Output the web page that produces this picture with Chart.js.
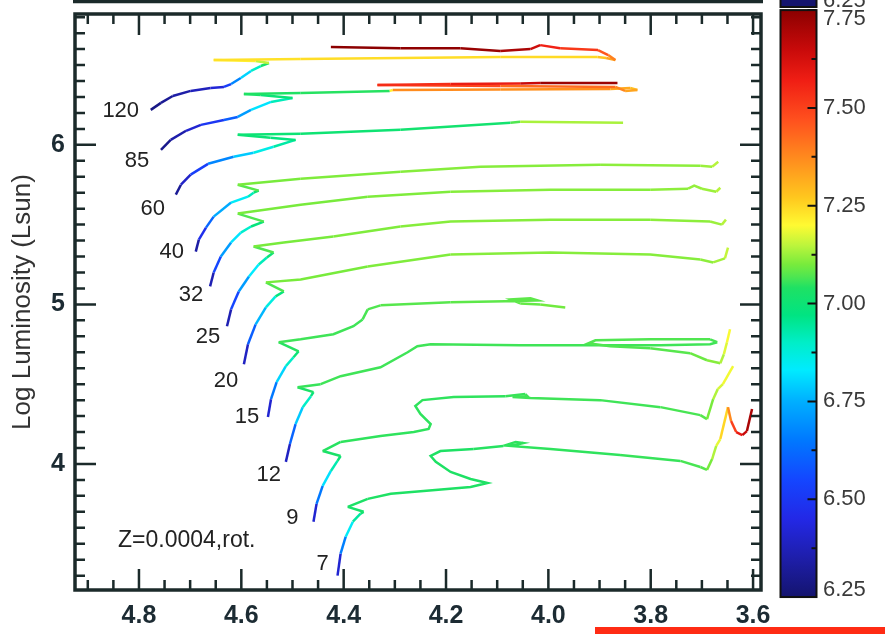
<!DOCTYPE html>
<html>
<head>
<meta charset="utf-8">
<script src="https://cdn.jsdelivr.net/npm/chart.js@4.4.1/dist/chart.umd.min.js"></script>
<style>
  html, body { margin: 0; padding: 0; background: #fff; }
  canvas { display: block; }
</style>
</head>
<body>
<canvas id="hrd" width="885" height="634" style="width:885px;height:634px"></canvas>
<script>
// Rotating tracks at Z = 0.0004: log Teff, log L/Lsun and log age along each track
const masses = [120, 85, 60, 40, 32, 25, 20, 15, 12, 9, 7];

const logT120 = [4.777, 4.757, 4.734, 4.699, 4.660, 4.634, 4.620, 4.601, 4.581, 4.562, 4.546, 4.572, 4.654, 4.484, 4.289, 4.094, 3.904, 3.887, 3.869, 3.883, 3.903, 3.977, 4.016, 4.035, 4.094, 4.172, 4.289, 4.425];
const logL120 = [6.219, 6.263, 6.306, 6.338, 6.356, 6.363, 6.381, 6.419, 6.463, 6.494, 6.513, 6.525, 6.531, 6.538, 6.544, 6.550, 6.550, 6.544, 6.531, 6.563, 6.594, 6.606, 6.625, 6.600, 6.588, 6.606, 6.606, 6.613];
const logAge120 = [6.28, 6.30, 6.33, 6.36, 6.40, 6.45, 6.60, 6.75, 6.85, 6.95, 7.10, 7.20, 7.23, 7.24, 7.24, 7.24, 7.25, 7.30, 7.36, 7.42, 7.50, 7.53, 7.60, 7.68, 7.72, 7.74, 7.75, 7.75];

const logT85 = [4.757, 4.738, 4.708, 4.679, 4.634, 4.607, 4.581, 4.542, 4.500, 4.562, 4.595, 4.484, 4.310, 4.304, 4.094, 3.879, 3.840, 3.826, 3.850, 3.869, 4.094, 4.334, 4.191, 4.055, 4.016, 3.865];
const logL85 = [5.969, 6.031, 6.088, 6.125, 6.156, 6.175, 6.219, 6.269, 6.294, 6.313, 6.319, 6.325, 6.338, 6.344, 6.347, 6.350, 6.356, 6.344, 6.338, 6.363, 6.369, 6.375, 6.381, 6.384, 6.388, 6.388];
const logAge85 = [6.28, 6.32, 6.38, 6.45, 6.55, 6.65, 6.78, 6.86, 6.97, 7.02, 7.04, 7.04, 7.05, 7.37, 7.37, 7.36, 7.28, 7.30, 7.36, 7.40, 7.45, 7.52, 7.56, 7.60, 7.70, 7.75];

const logT60 = [4.728, 4.718, 4.699, 4.665, 4.615, 4.576, 4.537, 4.494, 4.543, 4.607, 4.484, 4.289, 4.074, 4.055, 3.854];
const logL60 = [5.688, 5.750, 5.813, 5.881, 5.925, 5.950, 5.988, 6.031, 6.044, 6.063, 6.069, 6.094, 6.138, 6.144, 6.138];
const logAge60 = [6.28, 6.35, 6.45, 6.60, 6.75, 6.82, 6.90, 6.97, 6.99, 7.00, 7.00, 7.01, 7.02, 7.12, 7.15];

const logT40 = [4.689, 4.683, 4.669, 4.654, 4.620, 4.587, 4.576, 4.566, 4.607, 4.484, 4.289, 4.133, 3.899, 3.703, 3.680, 3.668];
const logL40 = [5.331, 5.406, 5.481, 5.550, 5.638, 5.675, 5.700, 5.713, 5.750, 5.788, 5.831, 5.863, 5.875, 5.869, 5.863, 5.894];
const logAge40 = [6.28, 6.40, 6.55, 6.68, 6.80, 6.88, 6.95, 7.05, 7.10, 7.10, 7.11, 7.11, 7.11, 7.12, 7.13, 7.16];

const logT32 = [4.661, 4.654, 4.640, 4.620, 4.601, 4.581, 4.556, 4.607, 4.484, 4.353, 4.191, 3.996, 3.801, 3.727, 3.715, 3.700, 3.672, 3.664];
const logL32 = [5.113, 5.200, 5.300, 5.388, 5.450, 5.488, 5.519, 5.569, 5.625, 5.675, 5.706, 5.719, 5.719, 5.725, 5.744, 5.725, 5.706, 5.731];
const logAge32 = [6.28, 6.45, 6.65, 6.78, 6.86, 6.93, 7.04, 7.10, 7.10, 7.10, 7.11, 7.11, 7.11, 7.12, 7.12, 7.12, 7.13, 7.16];

const logT25 = [4.628, 4.620, 4.605, 4.585, 4.566, 4.550, 4.537, 4.576, 4.517, 4.420, 4.289, 4.191, 3.996, 3.801, 3.684, 3.661, 3.653];
const logL25 = [4.863, 4.969, 5.081, 5.175, 5.250, 5.294, 5.325, 5.363, 5.388, 5.425, 5.488, 5.519, 5.531, 5.531, 5.519, 5.500, 5.531];
const logAge25 = [6.28, 6.45, 6.65, 6.78, 6.88, 6.95, 7.04, 7.10, 7.10, 7.10, 7.11, 7.11, 7.11, 7.11, 7.12, 7.13, 7.16];

const logT20 = [4.595, 4.587, 4.572, 4.552, 4.533, 4.517, 4.552, 4.484, 4.353, 4.191, 3.996, 3.801, 3.703, 3.678, 3.655, 3.649];
const logL20 = [4.625, 4.750, 4.875, 4.981, 5.050, 5.081, 5.138, 5.156, 5.238, 5.313, 5.325, 5.313, 5.281, 5.263, 5.288, 5.356];
const logAge20 = [6.28, 6.50, 6.70, 6.82, 6.92, 7.04, 7.10, 7.10, 7.10, 7.11, 7.11, 7.11, 7.11, 7.12, 7.14, 7.17];

const logT15 = [4.548, 4.542, 4.531, 4.513, 4.498, 4.488, 4.527, 4.484, 4.420, 4.381, 4.363, 4.353, 4.328, 4.191, 4.084, 4.021, 4.035, 4.074, 4.055, 4.016, 3.967];
const logL15 = [4.294, 4.406, 4.513, 4.613, 4.669, 4.706, 4.763, 4.781, 4.813, 4.863, 4.906, 4.969, 4.994, 5.013, 5.019, 5.025, 5.038, 5.031, 5.006, 5.000, 4.981];
const logAge15 = [6.28, 6.55, 6.75, 6.85, 6.95, 7.03, 7.06, 7.06, 7.06, 7.06, 7.06, 7.07, 7.07, 7.08, 7.08, 7.08, 7.08, 7.08, 7.08, 7.09, 7.10];

const logT12 = [4.513, 4.505, 4.494, 4.480, 4.464, 4.459, 4.490, 4.445, 4.406, 4.328, 4.275, 4.256, 4.230, 4.055, 3.899, 3.781, 3.684, 3.670, 3.684, 3.801, 3.908, 3.922, 3.879, 3.801, 3.723, 3.690, 3.664, 3.657, 3.651, 3.645];
const logL12 = [4.013, 4.125, 4.250, 4.356, 4.425, 4.450, 4.481, 4.500, 4.550, 4.606, 4.700, 4.738, 4.750, 4.744, 4.744, 4.744, 4.750, 4.763, 4.781, 4.781, 4.775, 4.756, 4.738, 4.725, 4.694, 4.650, 4.631, 4.688, 4.763, 4.844];
const logAge12 = [6.28, 6.50, 6.72, 6.85, 6.95, 7.02, 7.05, 7.06, 7.06, 7.06, 7.06, 7.06, 7.06, 7.06, 7.06, 7.06, 7.06, 7.06, 7.07, 7.07, 7.07, 7.07, 7.07, 7.07, 7.08, 7.10, 7.12, 7.16, 7.19, 7.20];

const logT9 = [4.459, 4.453, 4.441, 4.425, 4.412, 4.406, 4.441, 4.406, 4.328, 4.263, 4.234, 4.230, 4.250, 4.260, 4.246, 4.185, 4.084, 4.045, 4.041, 4.070, 4.035, 3.899, 3.781, 3.703, 3.690, 3.678, 3.669, 3.659, 3.639];
const logL9 = [3.638, 3.750, 3.863, 3.956, 4.019, 4.050, 4.081, 4.138, 4.175, 4.200, 4.219, 4.250, 4.313, 4.363, 4.400, 4.419, 4.425, 4.438, 4.425, 4.419, 4.413, 4.400, 4.356, 4.306, 4.281, 4.406, 4.469, 4.500, 4.613];
const logAge9 = [6.28, 6.55, 6.75, 6.88, 6.97, 7.02, 7.04, 7.05, 7.05, 7.05, 7.05, 7.05, 7.05, 7.05, 7.05, 7.05, 7.05, 7.06, 7.06, 7.06, 7.06, 7.06, 7.06, 7.07, 7.08, 7.12, 7.16, 7.18, 7.20];

const logT7 = [4.412, 4.406, 4.396, 4.382, 4.367, 4.361, 4.392, 4.353, 4.308, 4.244, 4.152, 4.119, 4.152, 4.191, 4.220, 4.230, 4.211, 4.146, 4.088, 4.064, 4.049, 4.074, 3.996, 3.860, 3.742, 3.703, 3.690, 3.680, 3.672, 3.664, 3.649, 3.643, 3.633, 3.621, 3.612, 3.602];
const logL7 = [3.300, 3.438, 3.544, 3.638, 3.688, 3.700, 3.731, 3.781, 3.813, 3.831, 3.856, 3.881, 3.906, 3.950, 4.013, 4.050, 4.081, 4.094, 4.113, 4.138, 4.131, 4.113, 4.094, 4.056, 4.019, 3.981, 3.963, 4.031, 4.113, 4.156, 4.356, 4.269, 4.200, 4.181, 4.206, 4.344];
const logAge7 = [6.28, 6.55, 6.78, 6.90, 6.98, 7.02, 7.03, 7.04, 7.04, 7.04, 7.04, 7.04, 7.04, 7.04, 7.04, 7.04, 7.04, 7.04, 7.05, 7.05, 7.05, 7.05, 7.05, 7.05, 7.06, 7.07, 7.08, 7.12, 7.16, 7.20, 7.30, 7.45, 7.55, 7.62, 7.68, 7.72];

const xTickValues = [3.6, 3.8, 4.0, 4.2, 4.4, 4.6, 4.8];
const yTickValues = [4, 5, 6];
const ageTickValues = [6.25, 6.50, 6.75, 7.00, 7.25, 7.50, 7.75];
const ageTickLabels = ['6.25', '6.50', '6.75', '7.00', '7.25', '7.50', '7.75'];
const panelNote = 'Z=0.0004,rot.';

const logTs = [logT120, logT85, logT60, logT40, logT32, logT25, logT20, logT15, logT12, logT9, logT7];
const logLs = [logL120, logL85, logL60, logL40, logL32, logL25, logL20, logL15, logL12, logL9, logL7];
const logAges = [logAge120, logAge85, logAge60, logAge40, logAge32, logAge25, logAge20, logAge15, logAge12, logAge9, logAge7];

// colour table of the age bar (IDL-like rainbow with a green step near 7.05)
const cmap = [
  [6.25, 20, 20, 110], [6.35, 30, 30, 170], [6.45, 35, 40, 230], [6.55, 20, 70, 255],
  [6.65, 0, 120, 255], [6.75, 0, 175, 255], [6.83, 0, 235, 255], [6.90, 0, 238, 200],
  [6.97, 0, 228, 130], [7.04, 30, 225, 100], [7.07, 80, 230, 80], [7.10, 120, 235, 60],
  [7.15, 190, 245, 60], [7.20, 255, 250, 50], [7.27, 255, 200, 30], [7.37, 255, 140, 30],
  [7.47, 255, 80, 30], [7.57, 240, 30, 20], [7.65, 200, 10, 10], [7.75, 140, 0, 0]
];
function ageColor(a) {
  if (a <= cmap[0][0]) return 'rgb(' + cmap[0].slice(1) + ')';
  for (let i = 0; i < cmap.length - 1; i++) {
    const s0 = cmap[i], s1 = cmap[i + 1];
    if (a <= s1[0]) {
      const f = (a - s0[0]) / (s1[0] - s0[0]);
      const c = [1, 2, 3].map(k => Math.round(s0[k] + f * (s1[k] - s0[k])));
      return 'rgb(' + c + ')';
    }
  }
  return 'rgb(' + cmap[cmap.length - 1].slice(1) + ')';
}

const ink = '#1b2a2a';
const FONT = '"Liberation Sans", Arial, sans-serif';

const datasets = masses.map((m, i) => ({
  label: m + ' Msun',
  data: logTs[i].map((t, j) => ({ x: t, y: logLs[i][j] })),
  showLine: true,
  pointRadius: 0,
  borderWidth: 2.5,
  borderColor: ageColor(logAges[i][0]),
  segment: {
    borderColor: c => ageColor((logAges[i][c.p0DataIndex] + logAges[i][c.p1DataIndex]) / 2)
  }
}));

// no extra room for the end labels: the frame sits where the figure has it
function noPad(s) {
  s.paddingTop = 0; s.paddingBottom = 0; s.paddingLeft = 0; s.paddingRight = 0;
}

// frame, inward ticks, colour bar, mass labels
const framePlugin = {
  id: 'frame',
  afterDraw(chart) {
    const { ctx, chartArea: a, scales: { x, y, yc } } = chart;
    ctx.save();

    // bottom edge of the panel above, cut by the page
    ctx.strokeStyle = ink;
    ctx.lineWidth = 3.5;
    ctx.beginPath();
    ctx.moveTo(a.left - 2, 1.5);
    ctx.lineTo(a.right + 2, 1.5);
    ctx.stroke();

    // frame
    ctx.strokeRect(a.left, a.top, a.right - a.left, a.bottom - a.top);

    // inward ticks on all four sides
    ctx.lineWidth = 2.5;
    ctx.beginPath();
    for (let k = 72; k <= 98; k++) {
      const px = x.getPixelForValue(k / 20);
      if (px < a.left + 2 || px > a.right - 2) continue;
      const len = k % 4 === 0 ? 21 : 10;
      ctx.moveTo(px, a.bottom); ctx.lineTo(px, a.bottom - len);
      ctx.moveTo(px, a.top); ctx.lineTo(px, a.top + len);
    }
    for (let k = 33; k <= 68; k++) {
      const py = y.getPixelForValue(k / 10);
      const len = k % 10 === 0 ? 21 : 10;
      ctx.moveTo(a.left, py); ctx.lineTo(a.left + len, py);
      ctx.moveTo(a.right, py); ctx.lineTo(a.right - len, py);
    }
    ctx.stroke();

    // colour bar
    const cbL = a.right + 19.5, cbW = 36;
    const v0 = ageTickValues[0], v1 = ageTickValues[ageTickValues.length - 1];
    const cTop = yc.getPixelForValue(v1), cBot = yc.getPixelForValue(v0);
    const g = ctx.createLinearGradient(0, cBot, 0, cTop);
    cmap.forEach(s => g.addColorStop((s[0] - v0) / (v1 - v0), 'rgb(' + s.slice(1) + ')'));
    ctx.fillStyle = g;
    ctx.fillRect(cbL, cTop, cbW, cBot - cTop);
    ctx.strokeStyle = '#111';
    ctx.lineWidth = 2;
    ctx.strokeRect(cbL, cTop, cbW, cBot - cTop);
    ctx.beginPath();
    for (let k = 0; k <= 12; k++) {
      const py = yc.getPixelForValue(v0 + k * (v1 - v0) / 12);
      const len = k % 2 === 0 ? 9 : 5;
      ctx.moveTo(cbL + cbW, py); ctx.lineTo(cbL + cbW - len, py);
    }
    ctx.stroke();

    // colour bar of the panel above, cut by the page
    ctx.fillStyle = 'rgb(' + cmap[0].slice(1) + ')';
    ctx.fillRect(cbL, 0, cbW, 7);
    ctx.strokeRect(cbL, -2, cbW, 9);
    ctx.fillStyle = '#3a3a3a';
    ctx.font = '22px ' + FONT;
    ctx.textAlign = 'left';
    ctx.textBaseline = 'alphabetic';
    ctx.fillText(ageTickLabels[0], a.right + 62, 7);

    // mass labels next to the start of each track
    const shift = [[-30, 1], [-24, 11], [-23, 14], [-24, 0], [-19, 9], [-19, 11],
                   [-18, 17], [-21, 0], [-17, 13], [-21, -4], [-15, -12]];
    ctx.fillStyle = '#222';
    ctx.font = '22px ' + FONT;
    ctx.textAlign = 'center';
    ctx.textBaseline = 'middle';
    masses.forEach((m, i) => {
      const px = x.getPixelForValue(logTs[i][0]) + shift[i][0];
      const py = y.getPixelForValue(logLs[i][0]) + shift[i][1];
      ctx.fillText(String(m), px, py);
    });
    ctx.font = '23px ' + FONT;
    ctx.textAlign = 'left';
    ctx.fillText(panelNote, a.left + 43, a.bottom - 49);

    // red strip at the page edge
    ctx.fillStyle = '#ff2b14';
    ctx.fillRect(595, 627, 290, 7);
    ctx.restore();
  }
};

new Chart(document.getElementById('hrd'), {
  type: 'scatter',
  data: { datasets },
  plugins: [framePlugin],
  options: {
    responsive: false,
    animation: false,
    events: [],
    layout: { padding: { top: 14, left: 0, right: 0, bottom: 0 } },
    plugins: { legend: { display: false }, tooltip: { enabled: false } },
    scales: {
      x: {
        type: 'linear',
        position: 'bottom',
        reverse: true,
        min: 3.5845,
        max: 4.925,
        grid: { display: false, drawTicks: false },
        border: { display: false },
        afterBuildTicks: s => { s.ticks = xTickValues.map(v => ({ value: v })); },
        afterFit: s => { s.height = 44; noPad(s); },
        ticks: {
          autoSkip: false,
          maxRotation: 0,
          padding: 11,
          color: '#1c2b33',
          font: { family: FONT, size: 25, weight: 'bold' },
          callback: v => Number(v).toFixed(1)
        }
      },
      y: {
        type: 'linear',
        position: 'left',
        min: 3.21,
        max: 6.82,
        grid: { display: false, drawTicks: false },
        border: { display: false },
        afterBuildTicks: s => { s.ticks = yTickValues.map(v => ({ value: v })); },
        afterFit: s => { s.width = 75; noPad(s); },
        ticks: {
          autoSkip: false,
          padding: 10,
          color: '#1c2b33',
          font: { family: FONT, size: 25, weight: 'bold' }
        },
        title: {
          display: true,
          text: 'Log Luminosity (Lsun)',
          color: '#333',
          font: { family: FONT, size: 26 },
          padding: { top: 7, bottom: 0 }
        }
      },
      yc: {
        type: 'linear',
        position: 'right',
        min: 6.268,
        max: 7.74,
        grid: { display: false, drawTicks: false },
        border: { display: false },
        // IDL keeps the end labels inside the bar
        afterBuildTicks: s => {
          s.ticks = ageTickValues.map(v => ({ value: Math.min(Math.max(v, s.min), s.max - 0.012) }));
        },
        afterFit: s => { s.width = 124; noPad(s); },
        ticks: {
          autoSkip: false,
          padding: 62,
          color: '#3a3a3a',
          font: { family: FONT, size: 22 },
          callback: (v, i) => ageTickLabels[i]
        }
      }
    }
  }
});
</script>
</body>
</html>
